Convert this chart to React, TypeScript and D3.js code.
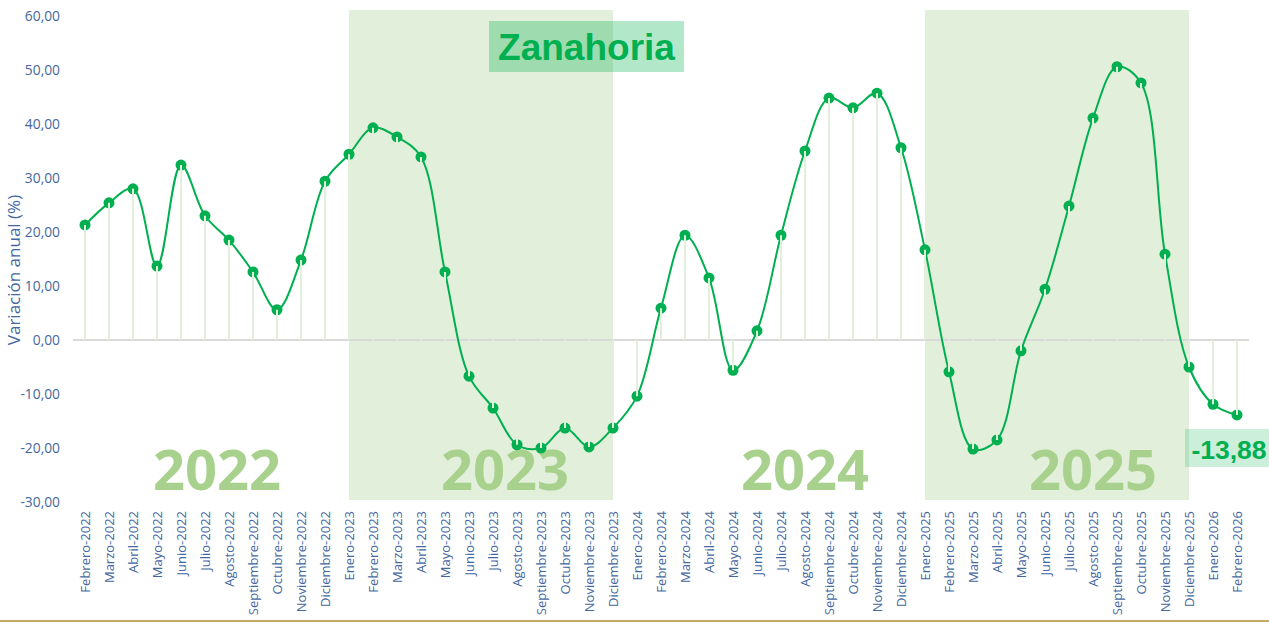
import React from "react";
import * as d3 from "d3";

const months = ["Enero","Febrero","Marzo","Abril","Mayo","Junio","Julio","Agosto","Septiembre","Octubre","Noviembre","Diciembre"];
const categories: string[] = [];
for (let y = 2022; y <= 2026; y++) {
  for (let m = 0; m < 12; m++) {
    if (y === 2022 && m === 0) continue;
    if (y === 2026 && m > 1) continue;
    categories.push(`${months[m]}-${y}`);
  }
}
const values = [
  21.3, 25.4, 28.0, 13.7, 32.4, 23.0, 18.5, 12.6, 5.6, 14.8, 29.4,
  34.4, 39.3, 37.6, 33.9, 12.6, -6.7, -12.6, -19.4, -20.0, -16.3, -19.8, -16.3,
  -10.4, 5.9, 19.4, 11.5, -5.6, 1.7, 19.4, 35.0, 44.8, 43.0, 45.7, 35.6,
  16.7, -5.9, -20.2, -18.5, -2.0, 9.4, 24.8, 41.1, 50.6, 47.6, 15.9, -5.0,
  -11.9, -13.88,
];
const yTicks = [60, 50, 40, 30, 20, 10, 0, -10, -20, -30];
const shadedYears = [
  { from: "Enero-2023", to: "Diciembre-2023" },
  { from: "Enero-2025", to: "Diciembre-2025" },
];
const yearLabels = ["2022", "2023", "2024", "2025"];
const yearAnchors = ["Julio-2022", "Julio-2023", "Agosto-2024", "Agosto-2025"];
const title = "Zanahoria";
const lastLabel = "-13,88";

const fmt = (v: number) => v.toFixed(2).replace(".", ",");

export default function App() {
  const W = 1269, H = 622;
  const x = d3.scalePoint<string>().domain(categories).range([85, 1237]);
  const step = x.step();
  const y = d3.scaleLinear().domain([-30, 60]).range([502, 16]);
  const line = d3
    .line<number>()
    .x((_, i) => x(categories[i])!)
    .y((d) => y(d))
    .curve(d3.curveCatmullRom.alpha(0.5));
  const green = "#00b050";
  const axisColor = "#44679f";
  const font = "'Open Sans', sans-serif";
  const lastY = y(values[values.length - 1]);
  const yearOffsets = [step / 2, step / 2, 0, 0];

  return (
    <svg width={W} height={H} style={{ position: "absolute", left: 0, top: 0, background: "#fff" }}>
      {shadedYears.map((s, i) => (
        <rect key={i} x={x(s.from)!} y={10} width={x(s.to)! - x(s.from)!} height={490} fill="#e2efda" />
      ))}
      {yearLabels.map((s, i) => (
        <text
          key={i}
          x={x(yearAnchors[i])! + yearOffsets[i]}
          y={490}
          textAnchor="middle"
          fontFamily={font}
          fontWeight={700}
          fontSize={56}
          fill="#a9d18e"
        >
          {s}
        </text>
      ))}
      <line x1={73} x2={1249} y1={y(0)} y2={y(0)} stroke="#d9d9d9" strokeWidth={2} />
      {yTicks.map((t) => (
        <text key={t} x={60} y={y(t)} dy="0.35em" textAnchor="end" fontFamily={font} fontSize={13.8} fill={axisColor}>
          {fmt(t)}
        </text>
      ))}
      <text
        transform={`translate(19.5,${270}) rotate(-90)`}
        textAnchor="middle"
        fontFamily={font}
        fontSize={17}
        fill={axisColor}
      >
        Variación anual (%)
      </text>
      {categories.map((c) => (
        <text
          key={c}
          transform={`translate(${x(c)!},511) rotate(-90)`}
          dy="0.35em"
          textAnchor="end"
          fontFamily={font}
          fontSize={13}
          fill={axisColor}
        >
          {c}
        </text>
      ))}
      <path d={line(values)!} fill="none" stroke={green} strokeWidth={2} />
      {values.map((v, i) => (
        <circle key={i} cx={x(categories[i])!} cy={y(v)} r={5.5} fill={green} />
      ))}
      {values.map((v, i) => (
        <line key={i} x1={x(categories[i])!} x2={x(categories[i])!} y1={y(0)} y2={y(v)} stroke="#e2efda" strokeWidth={2} />
      ))}
      <rect x={489} y={21} width={195} height={51} fill={green} fillOpacity={0.3} />
      <text x={586.5} y={60} textAnchor="middle" fontFamily="'Liberation Sans', Arial, sans-serif" fontWeight={700} fontSize={37} fill={green}>
        {title}
      </text>
      <rect x={1185} y={lastY + 14} width={84} height={38} fill={green} fillOpacity={0.2} />
      <text x={1229} y={lastY + 44} textAnchor="middle" fontFamily="'Liberation Sans', Arial, sans-serif" fontWeight={700} fontSize={26.5} fill={green}>
        {lastLabel}
      </text>
      <line x1={0} x2={W} y1={621} y2={621} stroke="#c8a865" strokeWidth={2} />
    </svg>
  );
}
